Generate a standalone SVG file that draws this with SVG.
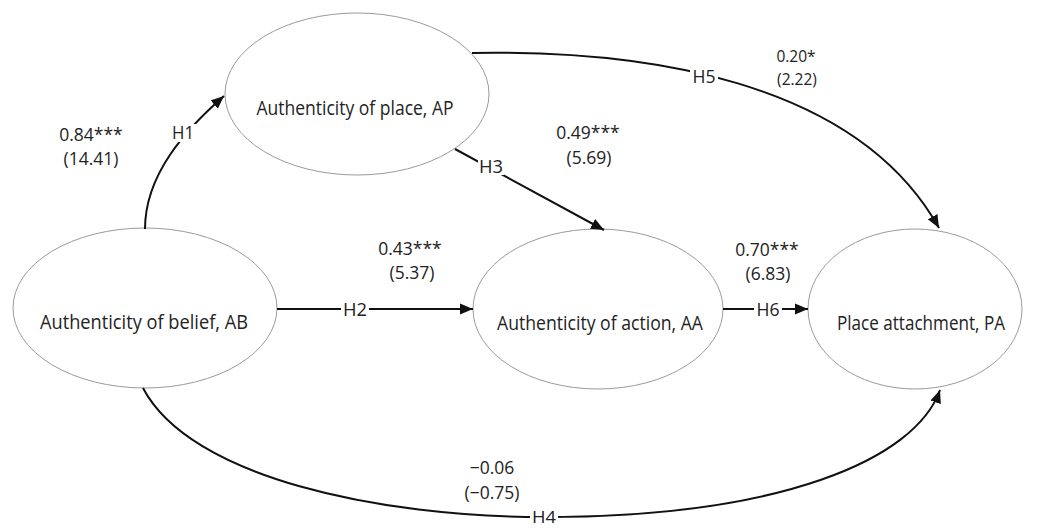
<svg xmlns="http://www.w3.org/2000/svg" width="1046" height="528" viewBox="0 0 1046 528">
<style>
.node{fill:#fff;stroke:#9a9a9a;stroke-width:1}
.ntxt{font-family:"Open Sans","Noto Sans",sans-serif;font-size:20.5px;fill:#222;text-anchor:middle}
.num{font-family:"Open Sans","Noto Sans",sans-serif;font-size:17.5px;fill:#222;text-anchor:middle}
.small{font-size:15.5px}
.edge{fill:none;stroke:#111;stroke-width:2}
.lbl{font-family:"Open Sans","Noto Sans",sans-serif;font-size:19px;fill:#222;text-anchor:middle}
.bg{fill:#fff}
</style>
<defs>
<marker id="arr" markerUnits="userSpaceOnUse" markerWidth="14" markerHeight="12" refX="13" refY="6" orient="auto">
<path d="M0,0.5 L13,6 L0,11.5 z" fill="#111"/>
</marker>
</defs>
<rect width="1046" height="528" fill="#fff"/>
<g id="AP"><ellipse class="node" cx="357" cy="94" rx="132" ry="81"/><text class="ntxt" x="355" y="115" textLength="197" lengthAdjust="spacingAndGlyphs">Authenticity of place, AP</text></g>
<g id="AB"><ellipse class="node" cx="145" cy="308" rx="132" ry="80"/><text class="ntxt" x="144" y="329" textLength="208" lengthAdjust="spacingAndGlyphs">Authenticity of belief, AB</text></g>
<g id="AA"><ellipse class="node" cx="598" cy="309" rx="125" ry="80"/><text class="ntxt" x="600" y="330" textLength="206" lengthAdjust="spacingAndGlyphs">Authenticity of action, AA</text></g>
<g id="PA"><ellipse class="node" cx="915" cy="309" rx="107" ry="80"/><text class="ntxt" x="921" y="330" textLength="168" lengthAdjust="spacingAndGlyphs">Place attachment, PA</text></g>
<g id="connectors">
<path id="H1" class="edge" d="M145,229 C145,175 185,130 224,96" marker-end="url(#arr)"/>
<path id="H2" class="edge" d="M277,309 L473,309" marker-end="url(#arr)"/>
<path id="H3" class="edge" d="M455,149 L604,230" marker-end="url(#arr)"/>
<path id="H4" class="edge" d="M143,388 C190,478 380,517 544,517 C780,517 915,460 940,390" marker-end="url(#arr)"/>
<path id="H5" class="edge" d="M472,53 C640,50 855,78 939,228" marker-end="url(#arr)"/>
<path id="H6" class="edge" d="M723,309 L808,309" marker-end="url(#arr)"/>
<rect class="bg" x="170" y="124" width="26" height="18"/><text class="lbl" x="183" y="139" textLength="22" lengthAdjust="spacingAndGlyphs">H1</text>
<rect class="bg" x="341" y="301" width="28" height="17"/><text class="lbl" x="355" y="316" textLength="24" lengthAdjust="spacingAndGlyphs">H2</text>
<rect class="bg" x="478" y="157" width="26" height="18"/><text class="lbl" x="491" y="173" textLength="24" lengthAdjust="spacingAndGlyphs">H3</text>
<rect class="bg" x="530" y="508" width="28" height="17"/><text class="lbl" x="544" y="523" style="font-size:17px" textLength="24" lengthAdjust="spacingAndGlyphs">H4</text>
<rect class="bg" x="690" y="66" width="28" height="19"/><text class="lbl" x="704" y="83" textLength="23" lengthAdjust="spacingAndGlyphs">H5</text>
<rect class="bg" x="754" y="301" width="28" height="17"/><text class="lbl" x="768" y="316" textLength="23" lengthAdjust="spacingAndGlyphs">H6</text>
</g>
<g id="coefficients">
<text class="num" x="91" y="141">0.84***</text>
<text class="num" x="91" y="165">(14.41)</text>
<text class="num" x="588" y="139">0.49***</text>
<text class="num" x="589" y="164">(5.69)</text>
<text class="num" x="410" y="255">0.43***</text>
<text class="num" x="412" y="279">(5.37)</text>
<text class="num" x="767" y="256">0.70***</text>
<text class="num" x="768" y="280">(6.83)</text>
<text class="num small" x="796" y="62">0.20*</text>
<text class="num small" x="797" y="85">(2.22)</text>
<text class="num" x="492" y="474">−0.06</text>
<text class="num" x="492" y="499">(−0.75)</text>
</g>
</svg>
